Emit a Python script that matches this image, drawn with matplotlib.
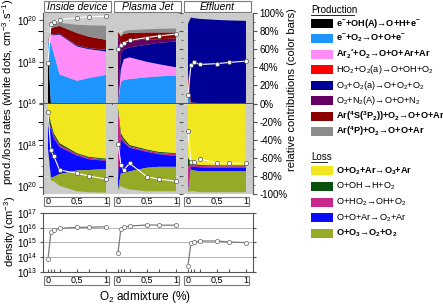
import matplotlib
matplotlib.use('Agg')
from matplotlib import pyplot as plt
from matplotlib.patches import Rectangle
from matplotlib.lines import Line2D
from matplotlib import transforms, ticker

plt.rcParams['font.family'] = ['Liberation Sans', 'DejaVu Sans']
plt.rcParams['mathtext.default'] = 'regular'

# O2 admixture (%)
o2 = [0, 0.05, 0.1, 0.2, 0.5, 0.7, 1]
panels = ['Inside device', 'Plasma Jet', 'Effluent']

prod_labels = ['e$^{-}$+OH(A)→O+H+e$^{-}$', 'e$^{-}$+O$_2$→O+O+e$^{-}$',
               'Ar$_2$$^{*}$+O$_2$→O+O+Ar+Ar', 'HO$_2$+O$_2$(a)→O+OH+O$_2$',
               'O$_3$+O$_2$(a)→O+O$_2$+O$_2$', 'O$_2$+N$_2$(A)→O+O+N$_2$',
               'Ar($^4$S($^3$P$_2$))+O$_2$→O+O+Ar', 'Ar($^4$P)+O$_2$→O+O+Ar']
prod_bold = [True, True, True, False, False, False, True, True]
prod_colors = ['#000000', '#1e96ff', '#ff8cf8', '#ff0000', '#000096',
               '#640064', '#8c0000', '#8c8c8c']

loss_labels = ['O+O$_2$+Ar→O$_3$+Ar', 'O+OH→H+O$_2$', 'O+HO$_2$→OH+O$_2$',
               'O+O+Ar→O$_2$+Ar', 'O+O$_3$→O$_2$+O$_2$']
loss_bold = [True, False, False, False, True]
loss_colors = ['#f2e61e', '#0a500f', '#c8288c', '#0a0aff', '#96aa28']

# relative contributions (%) to O production
prod_inside = [[60, 0.5, 0.3, 0.2, 0.1, 0.1, 0.1],
               [8, 66, 55, 32, 25, 28, 31.5],
               [0, 10, 20, 44, 38, 32, 26],
               [0, 0, 0, 0, 0, 0, 0],
               [0, 0.5, 0.7, 0.8, 1, 1, 1.5],
               [0, 0.2, 0.2, 0.2, 0.3, 0.3, 0.3],
               [0, 6, 8, 8.5, 13.5, 12.5, 11],
               [0, 0, 4, 3.5, 9, 12.5, 15.5]]
prod_jet = [[0, 0, 0, 0, 0, 0, 0],
            [0, 24, 26, 27, 29, 30, 31],
            [0, 14, 23, 24, 17, 13.5, 9],
            [0, 0, 0, 0, 0, 0, 0],
            [3, 17, 11, 11, 19, 23.5, 28.5],
            [72, 11, 8, 7.5, 5.5, 4, 3.5],
            [4, 8, 9, 8.5, 8, 7.5, 6.5],
            [0, 1, 3, 3, 3.5, 4, 4.5]]
prod_effluent = [[0, 0, 0, 0, 0, 0, 0],
                 [8, 0.5, 0.3, 0.2, 0.1, 0.1, 0.1],
                 [0, 0, 0, 0, 0, 0, 0],
                 [25, 1, 0.5, 0.3, 0.2, 0.2, 0.2],
                 [55, 93.5, 93.5, 93, 92, 91.5, 91],
                 [0, 0, 0, 0, 0, 0, 0],
                 [0, 0, 0, 0, 0, 0, 0],
                 [0, 0, 0, 0, 0, 0, 0]]

# relative contributions (%) to O loss
loss_inside = [[8, 22, 33, 44, 55, 59, 61],
               [15, 4, 3, 2, 1, 1, 1],
               [2, 2, 2, 2, 1.5, 1.5, 1.5],
               [25, 54, 43, 30, 16.5, 12, 9],
               [0, 3, 5, 13, 23, 24.5, 26]]
loss_jet = [[5, 33, 38.5, 46, 51, 53.5, 55],
            [4, 3, 2.5, 1.5, 1, 1, 1],
            [75, 3, 2, 1.5, 1.5, 1.5, 2],
            [12, 38, 34, 26, 17.5, 14, 12],
            [0, 14, 16, 20, 26, 27, 27]]
loss_effluent = [[60, 65, 67, 68, 68.5, 68.5, 68.5],
                 [10, 2.5, 1.5, 1, 1, 1, 1],
                 [25, 2.5, 1.5, 1.5, 1.5, 1.5, 1.5],
                 [3, 3, 4, 4.5, 4, 4, 4],
                 [0, 24, 23, 23, 23, 23, 23]]

# total production / loss rates (cm-3 s-1), white dots
prod_rate_inside = [9.1e17, 6.5e19, 8.7e19, 1.1e20, 1.35e20, 1.5e20, 1.6e20]
prod_rate_jet = [4.0e18, 6.8e18, 8.3e18, 1.1e19, 1.5e19, 1.8e19, 2.2e19]
prod_rate_effluent = [2.7e16, 6.8e17, 1.0e18, 7.6e17, 8.3e17, 9.5e17, 1.1e18]
loss_rate_inside = [2.5e16, 1.8e18, 3.4e18, 1.6e19, 2.3e19, 3.1e19, 4.4e19]
loss_rate_jet = [8.5e17, 8.7e18, 1.6e19, 7.6e18, 3.4e19, 4.4e19, 5.5e19]
loss_rate_effluent = [2.2e17, 6.3e18, 6.6e18, 4.6e18, 7.6e18, 7.6e18, 7.6e18]

# O density (cm-3)
dens_inside = [7.2e13, 4.9e15, 7.1e15, 9.1e15, 1.07e16, 1.07e16, 1.17e16]
dens_jet = [2.0e14, 8.3e15, 1.07e16, 1.3e16, 1.55e16, 1.5e16, 1.5e16]
dens_effluent = [2.7e13, 8.9e14, 1.1e15, 1.26e15, 1.26e15, 1.1e15, 9.8e14]

prod = [prod_inside, prod_jet, prod_effluent]
loss = [loss_inside, loss_jet, loss_effluent]
prod_rate = [prod_rate_inside, prod_rate_jet, prod_rate_effluent]
loss_rate = [loss_rate_inside, loss_rate_jet, loss_rate_effluent]
dens = [dens_inside, dens_jet, dens_effluent]

W, H = 443, 305
fig = plt.figure(figsize=(W / 100, H / 100), dpi=100)


def rect(x0, y0, x1, y1):
    # pixel box (y from top) -> figure fraction
    return [x0 / W, 1 - y1 / H, (x1 - x0) / W, (y1 - y0) / H]


def fbox(x0, y0, x1, y1):
    r = Rectangle((x0 / W, 1 - y1 / H), (x1 - x0) / W, (y1 - y0) / H,
                  transform=fig.transFigure, fc='white', ec='#7a7a7a', lw=0.8)
    fig.add_artist(r)


def no_ticks(a):
    for s in a.spines.values():
        s.set_visible(False)
    a.tick_params(bottom=False, labelbottom=False, left=False, labelleft=False,
                  right=False, labelright=False, top=False, labeltop=False, which='both')


bg = '#cbcbcb'
spc = '#555555'
xlim = (-0.086, 1.121)
rtop = 10 ** 20.36
fs = 7

for i in range(3):
    left = 43 + 70 * i
    top = fig.add_axes(rect(left, 13, left + 70, 103.5))
    bot = fig.add_axes(rect(left, 103.5, left + 70, 194))
    for a in (top, bot):
        a.set_facecolor(bg)
        a.set_xlim(*xlim)
        a.grid(axis='y', color='#e4e4e4', ls=(0, (2, 2)), lw=0.6, zorder=0)
        a.set_yticks([20, 40, 60, 80])
        a.set_axisbelow(True)
        no_ticks(a)
    top.stackplot(o2, prod[i], colors=prod_colors, lw=0, zorder=2)
    top.set_ylim(0, 100)
    bot.stackplot(o2, loss[i], colors=loss_colors, lw=0, zorder=2)
    bot.set_ylim(100, 0)
    top.axhline(0, color='#4a4a4a', lw=1.3, clip_on=False, zorder=6)

    ttop = top.twinx()
    tbot = bot.twinx()
    for t, rate, lim in ((ttop, prod_rate[i], (1e16, rtop)), (tbot, loss_rate[i], (rtop, 1e16))):
        t.set_yscale('log')
        t.set_ylim(*lim)
        t.set_xlim(*xlim)
        t.yaxis.set_major_locator(ticker.FixedLocator([1e16, 1e18, 1e20]))
        t.yaxis.set_minor_locator(ticker.FixedLocator([1e17, 1e19]))
        t.yaxis.set_minor_formatter(ticker.NullFormatter())
        t.plot(o2, rate, color='white', lw=0.8, marker='o', ms=3, mfc='white',
               mec='#505050', mew=0.5, zorder=5)
        no_ticks(t)

    if i == 0:
        for t, labs in ((ttop, ['$10^{16}$', '$10^{18}$', '$10^{20}$']),
                        (tbot, ['', '$10^{18}$', '$10^{20}$'])):
            t.yaxis.set_major_formatter(ticker.FixedFormatter(labs))
            t.spines['left'].set_visible(True)
            t.spines['left'].set_color(spc)
            t.tick_params(axis='y', which='both', left=True, labelleft=True,
                          labelsize=fs, direction='out', color=spc, pad=1.5)
            t.tick_params(axis='y', which='major', length=3)
            t.tick_params(axis='y', which='minor', length=1.5)
    if i == 2:
        for a, labs in ((top, ['0%', '20%', '40%', '60%', '80%', '100%']),
                        (bot, ['', '-20%', '-40%', '-60%', '-80%', '-100%'])):
            a.set_yticks([0, 20, 40, 60, 80, 100])
            a.set_yticklabels(labs)
            a.set_yticks([10, 30, 50, 70, 90], minor=True)
            a.spines['right'].set_visible(True)
            a.spines['right'].set_color(spc)
            a.tick_params(axis='y', which='both', right=True, labelright=True,
                          labelsize=fs, direction='out', color=spc, pad=1.5)
            a.tick_params(axis='y', which='major', length=3)
            a.tick_params(axis='y', which='minor', length=1.5)

    # header box
    fbox(left + 1, 1, left + 68, 12)
    fig.text((left + 34.5) / W, 1 - 6.5 / H, panels[i], ha='center', va='center',
             fontsize=7.5, style='italic')

    # tick label box under rates panel
    fbox(left + 1, 197, left + 66, 206)
    tr = transforms.blended_transform_factory(top.transData, fig.transFigure)
    for xv, lab in zip([0, 0.5, 1], ['0', '0,5', '1']):
        fig.text(xv, 1 - 201.5 / H, lab, transform=tr, ha='center', va='center', fontsize=6.5)

    # density panel
    d = fig.add_axes(rect(left, 213, left + 70, 272))
    d.plot(o2, dens[i], color='#7a7a7a', lw=0.9, marker='o', ms=3, mfc='white',
           mec='#7a7a7a', mew=0.6, zorder=4)
    d.set_yscale('log')
    d.set_ylim(1e13, 1e17)
    d.set_xlim(*xlim)
    d.yaxis.set_major_locator(ticker.FixedLocator([1e13, 1e14, 1e15, 1e16, 1e17]))
    d.yaxis.set_minor_locator(ticker.NullLocator())
    d.grid(axis='y', color='#b4b4b4', lw=0.7)
    d.set_xticks(o2)
    d.set_xticklabels([])
    d.tick_params(axis='x', length=2, direction='in', color=spc)
    for side, s in d.spines.items():
        s.set_color(spc)
        s.set_linewidth(0.8)
        if side == 'left' and i != 0:
            s.set_visible(False)
        if side == 'right' and i != 2:
            s.set_visible(False)
    d.tick_params(axis='y', left=(i == 0), labelleft=(i == 0), right=(i == 2),
                  labelright=False, labelsize=fs, length=2.5, color=spc, pad=1.5)
    if i == 0:
        d.yaxis.set_major_formatter(ticker.FixedFormatter(
            ['$10^{13}$', '$10^{14}$', '$10^{15}$', '$10^{16}$', '$10^{17}$']))
    fbox(left + 1, 276, left + 66, 285)
    tr = transforms.blended_transform_factory(d.transData, fig.transFigure)
    for xv, lab in zip([0, 0.5, 1], ['0', '0,5', '1']):
        fig.text(xv, 1 - 280.5 / H, lab, transform=tr, ha='center', va='center', fontsize=6.5)

# axis labels
fig.text(8 / W, 1 - 92 / H, 'prod./loss rates (white dots, cm$^{-3}$.s$^{-1}$)',
         rotation=90, ha='center', va='center', fontsize=8)
fig.text(292 / W, 1 - 90 / H, 'relative contributions (color bars)',
         rotation=90, ha='center', va='center', fontsize=8)
fig.text(10 / W, 1 - 231 / H, 'density (cm$^{-3}$)', rotation=90,
         ha='center', va='center', fontsize=8)
fig.text(145 / W, 1 - 297 / H, 'O$_2$ admixture (%)', ha='center', va='center', fontsize=8.5)


# legend
def header(y, txt, w):
    fig.text(311 / W, 1 - y / H, txt, ha='left', va='center', fontsize=7)
    fig.add_artist(Line2D([311 / W, (311 + w) / W], [1 - (y + 4.5) / H] * 2,
                          transform=fig.transFigure, color='black', lw=0.6))


def entry(y, color, txt, bold):
    fig.add_artist(Rectangle((311 / W, 1 - (y + 4.5) / H), 22 / W, 9 / H,
                             transform=fig.transFigure, fc=color, ec='none'))
    fig.text(336 / W, 1 - y / H, txt, ha='left', va='center', fontsize=6.6,
             fontweight='bold' if bold else 'normal')


header(10, 'Production', 43)
for k in range(len(prod_labels)):
    entry(23 + 15.5 * k, prod_colors[k], prod_labels[k], prod_bold[k])
header(157, 'Loss', 16)
for k in range(len(loss_labels)):
    entry(171 + 15.5 * k, loss_colors[k], loss_labels[k], loss_bold[k])

fig.savefig('out.png', dpi=100)
